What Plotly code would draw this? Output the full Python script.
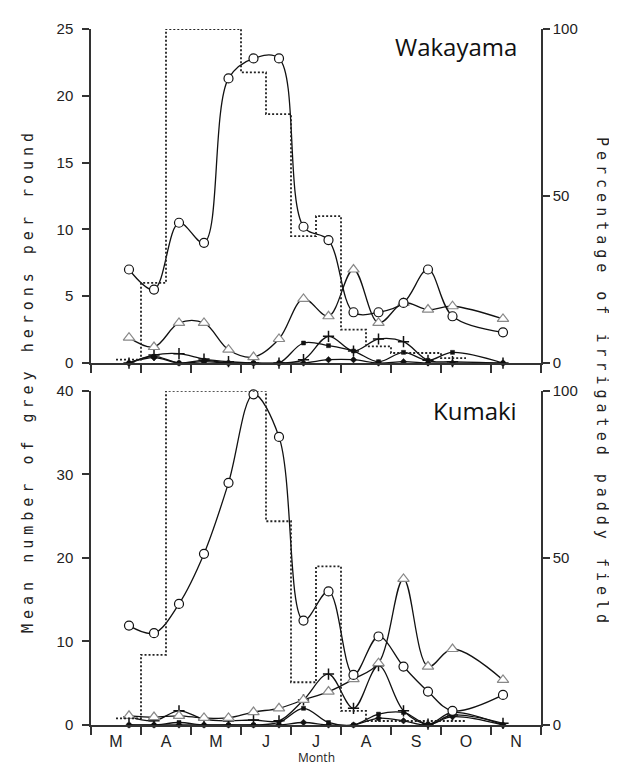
import plotly.graph_objects as go

# ---- data ----
months = ["M", "A", "M", "J", "J", "A", "S", "O", "N"]
month_pos = [0.5, 1.5, 2.5, 3.5, 4.5, 5.5, 6.5, 7.5, 8.5]   # label centres (months since 1 March)
survey_x = [0.76, 1.26, 1.76, 2.26, 2.75, 3.25, 3.76, 4.25, 4.75, 5.25, 5.75, 6.25, 6.74, 7.23, 8.24]

# Wakayama
w_circle = [7.0, 5.5, 10.5, 9.0, 21.3, 22.8, 22.8, 10.2, 9.2, 3.8, 3.8, 4.5, 7.0, 3.5, 2.3]
w_tri = [1.9, 1.2, 3.0, 3.0, 1.0, 0.45, 1.8, 4.8, 3.5, 7.0, 3.0, 4.5, 4.0, 4.25, 3.3]
w_plus = [0.0, 0.6, 0.7, 0.3, 0.1, 0.0, 0.0, 0.25, 2.0, 0.9, 1.8, 1.6, 0.2, 0.1, 0.0]
w_square = [0.0, 0.5, 0.0, 0.2, 0.0, 0.0, 0.0, 1.5, 1.3, 0.9, 0.1, 0.8, 0.2, 0.8, 0.0]
w_diamond = [0.0, 0.4, 0.0, 0.1, 0.0, 0.0, 0.0, 0.0, 0.25, 0.25, 0.0, 0.1, 0.0, 0.0, 0.0]
w_irr_edges = [0.5, 1.0, 1.5, 3.0, 3.5, 4.0, 4.5, 5.0, 5.5, 6.0, 7.0, 7.5]
w_irr_pct = [1, 24, 100, 87, 74.5, 38, 44, 10, 5, 3, 1.5]

# Kumaki
k_circle = [11.9, 11.0, 14.5, 20.5, 29.0, 39.6, 34.5, 12.5, 16.0, 6.0, 10.6, 7.0, 4.0, 1.7, 3.6]
k_tri = [1.1, 0.95, 1.1, 0.85, 0.85, 1.55, 2.0, 3.0, 4.0, 5.5, 7.4, 17.5, 7.0, 9.1, 5.4]
k_plus = [1.0, 0.5, 1.7, 0.7, 0.5, 0.6, 0.5, 3.0, 6.1, 2.0, 7.1, 1.7, 0.1, 1.2, 0.2]
k_square = [0.0, 0.0, 0.3, 0.0, 0.0, 0.0, 0.3, 2.0, 0.3, 0.0, 1.3, 1.5, 0.1, 1.5, 0.0]
k_diamond = [0.0, 0.0, 0.0, 0.0, 0.0, 0.0, 0.0, 0.3, 0.0, 0.0, 0.8, 0.5, 0.0, 1.0, 0.0]
k_irr_edges = [0.5, 1.0, 1.5, 3.5, 4.0, 4.5, 5.0, 5.5, 7.5]
k_irr_pct = [2, 21, 100, 61, 12.8, 47.5, 4.2, 1.2]

left_title = "Mean number of grey herons per round"
right_title = "Percentage of irrigated paddy field"

# ---- figure ----
fig = go.Figure()
INK = "#111"
AX = "#333"


def add_series(xa, ya, vals, sym, size, fill, edge, lw=1.2):
    fig.add_trace(go.Scatter(
        x=survey_x, y=vals, xaxis=xa, yaxis=ya, mode="lines+markers",
        line=dict(color=INK, width=1.3, shape="spline", smoothing=1.0),
        marker=dict(symbol=sym, size=size, color=fill, line=dict(color=edge, width=lw)),
        cliponaxis=False, showlegend=False, hoverinfo="skip"))


def add_steps(xa, ya, edges, vals):
    xs = list(edges)
    ys = list(vals) + [vals[-1]]
    fig.add_trace(go.Scatter(
        x=xs, y=ys, xaxis=xa, yaxis=ya, mode="lines",
        line=dict(color="#222", width=1.8, shape="hv", dash="2px,2px"),
        showlegend=False, hoverinfo="skip"))


for xa, ya, yr, irr_e, irr_v, c, t, p, s, d in [
        ("x", "y", "y3", w_irr_edges, w_irr_pct, w_circle, w_tri, w_plus, w_square, w_diamond),
        ("x2", "y2", "y4", k_irr_edges, k_irr_pct, k_circle, k_tri, k_plus, k_square, k_diamond)]:
    add_steps(xa, yr, irr_e, irr_v)
    add_series(xa, ya, d, "diamond", 5, INK, INK, 0.5)
    add_series(xa, ya, s, "square", 4, INK, INK, 0.5)
    add_series(xa, ya, p, "cross-thin", 8, INK, INK, 1.5)
    add_series(xa, ya, t, "triangle-up", 10, "white", "#888", 1.2)
    add_series(xa, ya, c, "circle", 9, "white", INK, 1.2)

tickfont = dict(family="Liberation Sans, Arial, sans-serif", size=15, color="#222")
H = 698.0
top_dom = [363 / H, 1.0]
bot_dom = [0.0, 335 / H]

common_x = dict(range=[0, 9], showline=True, linecolor=AX, linewidth=1.5, showgrid=False,
                zeroline=False)
common_y = dict(showline=True, linecolor=AX, linewidth=1.5, showgrid=False, zeroline=False,
                ticks="outside", ticklen=7, tickwidth=1.5, tickcolor=AX, tickfont=tickfont)

fig.update_layout(
    width=617, height=767,
    margin=dict(l=83, r=84, t=19, b=50),
    paper_bgcolor="white", plot_bgcolor="white",
    xaxis=dict(common_x, anchor="y", tickmode="array", tickvals=list(range(10)),
               ticks="outside", ticklen=8, tickwidth=1.5, tickcolor=AX, showticklabels=False),
    xaxis2=dict(common_x, anchor="y2", tickmode="array", tickvals=month_pos, ticktext=months,
                ticks="outside", ticklen=1, tickcolor="rgba(0,0,0,0)",
                tickfont=dict(family="Liberation Sans, Arial, sans-serif", size=16, color="#222"),
                minor=dict(tickmode="linear", tick0=0, dtick=1, ticks="outside", ticklen=8,
                           tickwidth=1.5, tickcolor=AX)),
    yaxis=dict(common_y, domain=top_dom, anchor="x", range=[0, 25], tickvals=[0, 5, 10, 15, 20, 25],
               ticklabelstandoff=6),
    yaxis3=dict(common_y, overlaying="y", anchor="x", side="right", range=[0, 100],
                tickvals=[0, 50, 100]),
    yaxis2=dict(common_y, domain=bot_dom, anchor="x2", range=[0, 40], tickvals=[0, 10, 20, 30, 40],
                ticklabelstandoff=6),
    yaxis4=dict(common_y, overlaying="y2", anchor="x2", side="right", range=[0, 100],
                tickvals=[0, 50, 100]),
)

sp = "letter-spacing:5px"
fig.add_annotation(text=f'<span style="{sp}">{left_title}</span>', xref="paper", yref="paper",
                   x=(20 - 83) / 450, y=(717 - 372) / H, textangle=-90, showarrow=False,
                   xanchor="center", yanchor="middle",
                   font=dict(family="DejaVu Sans Mono, monospace", size=15, color="#222"))
fig.add_annotation(text=f'<span style="{sp}">{right_title}</span>', xref="paper", yref="paper",
                   x=(594 - 83) / 450, y=(717 - 373) / H, textangle=90, showarrow=False,
                   xanchor="center", yanchor="middle",
                   font=dict(family="DejaVu Sans Mono, monospace", size=15, color="#222"))
fig.add_annotation(text="Wakayama", xref="paper", yref="paper", x=(511 - 83) / 450,
                   y=1 - (37 - 19) / H, xanchor="right", yanchor="middle", showarrow=False,
                   font=dict(family="Open Sans, sans-serif", size=24, color="#111"))
fig.add_annotation(text="Kumaki", xref="paper", yref="paper", x=(511 - 83) / 450,
                   y=(717 - 402) / H, xanchor="right", yanchor="middle", showarrow=False,
                   font=dict(family="Open Sans, sans-serif", size=24, color="#111"))
fig.add_annotation(text="Month", xref="paper", yref="paper", x=(308 - 83) / 450,
                   y=(717 - 750) / H, xanchor="center", yanchor="middle", showarrow=False,
                   font=dict(family="Open Sans, sans-serif", size=12, color="#222"))

fig.write_html("out.html")
